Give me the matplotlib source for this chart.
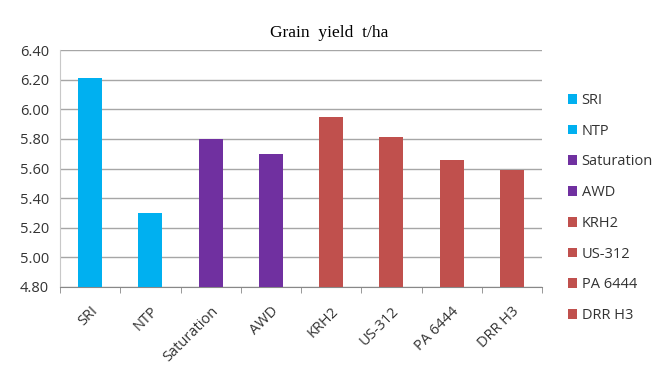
import matplotlib
matplotlib.use("Agg")
from matplotlib import pyplot as plt
from matplotlib.patches import Patch

categories = ['SRI', 'NTP', 'Saturation', 'AWD', 'KRH2', 'US-312', 'PA 6444', 'DRR H3']
yields = [6.21, 5.30, 5.80, 5.70, 5.95, 5.81, 5.66, 5.59]
colors = ['#00B0F0', '#00B0F0', '#7030A0', '#7030A0',
          '#C0504D', '#C0504D', '#C0504D', '#C0504D']
y_ticks = [4.80, 5.00, 5.20, 5.40, 5.60, 5.80, 6.00, 6.20, 6.40]

plt.rcParams['font.family'] = ['Open Sans', 'DejaVu Sans']

fig = plt.figure(figsize=(6.58, 3.67), dpi=100)
ax = fig.add_axes([60 / 658, 1 - 287 / 367, 482 / 658, 237 / 367])

x = list(range(len(categories)))
ax.bar(x, yields, width=0.4, color=colors, bottom=0, zorder=3)
ax.set_ylim(4.80, 6.40)
ax.set_xlim(-0.5, len(categories) - 0.5)
ax.set_yticks(y_ticks)
ax.set_yticklabels(['%.2f' % v for v in y_ticks], fontsize=10.5, color='#333333')
ax.yaxis.grid(True, color='#a6a6a6', linewidth=1, zorder=0)
ax.tick_params(axis='y', length=0, pad=8)

ax.set_xticks(x)
ax.set_xticklabels(categories, rotation=45, ha='right', rotation_mode='anchor',
                   fontsize=10.5, color='#333333')
ax.set_xticks([i + 0.5 for i in range(-1, len(categories))], minor=True)
ax.tick_params(axis='x', which='major', length=0, pad=12)
ax.tick_params(axis='x', which='minor', length=4, color='#888888', direction='out')

for s in ['top', 'right']:
    ax.spines[s].set_visible(False)
ax.spines['left'].set_color('#c8c8c8')
ax.spines['bottom'].set_color('#888888')

fig.text(0.5, 1 - 33 / 367, 'Grain  yield  t/ha', ha='center', va='center',
         fontsize=12.5, family='Liberation Serif')

handles = [Patch(facecolor=c, edgecolor='none') for c in colors]
fig.legend(handles, categories, loc='upper left', bbox_to_anchor=(562 / 658, 1 - 87 / 367),
           frameon=False, fontsize=10.5, handlelength=0.65, handleheight=0.65,
           handletextpad=0.3, labelspacing=1.08, labelcolor='#333333',
           borderaxespad=0)

fig.savefig('out.png', dpi=100)
